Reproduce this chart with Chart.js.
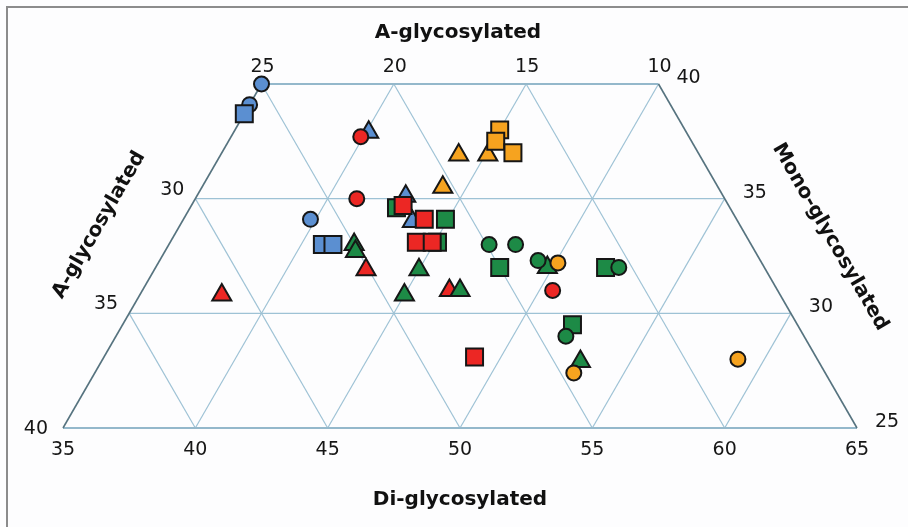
<!DOCTYPE html>
<html>
<head>
<meta charset="utf-8">
<script src="https://cdn.jsdelivr.net/npm/chart.js@4/dist/chart.umd.min.js"></script>
<style>
  body { margin: 0; background: #fdfdfe; }
  canvas { display: block; }
</style>
</head>
<body>
<canvas id="chart" width="908" height="527"></canvas>
<script>
// ternary values in %, A-glycosylated = 100 - di - mono
var blueCircleDi = [35.0, 35.0, 39.8];
var blueCircleMono = [40.0, 39.1, 34.1];
var blueSquareDi = [35.0, 40.8, 41.2];
var blueSquareMono = [38.7, 33.0, 33.0];
var blueTriangleDi = [40.1, 42.9, 43.7];
var blueTriangleMono = [37.9, 35.1, 34.0];

var redCircleDi = [39.9, 41.1, 50.5];
var redCircleMono = [37.7, 35.0, 31.0];
var redSquareDi = [43.0, 44.1, 44.3, 44.9, 49.0];
var redSquareMono = [34.7, 34.1, 33.1, 33.1, 28.1];
var redTriangleDi = [43.0, 46.6, 38.1];
var redTriangleMono = [31.9, 31.0, 30.8];

var greenCircleDi = [47.1, 48.1, 49.3, 52.5, 52.0];
var greenCircleMono = [33.0, 33.0, 32.3, 32.0, 29.0];
var greenSquareDi = [42.8, 44.9, 45.1, 48.0, 52.0, 52.0];
var greenSquareMono = [34.6, 34.1, 33.1, 32.0, 32.0, 29.5];
var greenTriangleDi = [42.0, 42.2, 45.0, 45.0, 47.0, 53.1, 49.8];
var greenTriangleMono = [33.0, 32.7, 31.9, 30.8, 31.0, 27.9, 32.0];

var orangeCircleDi = [50.1, 53.1, 59.0];
var orangeCircleMono = [32.2, 27.4, 28.0];
var orangeSquareDi = [45.0, 45.1, 46.0];
var orangeSquareMono = [38.0, 37.5, 37.0];
var orangeTriangleDi = [44.0, 45.1, 44.1];
var orangeTriangleMono = [36.9, 36.9, 35.5];

var diTicks = [35, 40, 45, 50, 55, 60, 65];
var monoTicks = [25, 30, 35, 40];
var aTicksLeft = [40, 35, 30];
var aTicksTop = [25, 20, 15, 10];

var DI_MIN = 35, MONO_MIN = 25, SPAN = 30, MONO_MAX = 40;
var SQ3 = Math.sqrt(3);

function toXY(di, mono) {
    return { x: (di - DI_MIN) + (mono - MONO_MIN) / 2, y: (mono - MONO_MIN) * SQ3 / 2 };
}
function points(di, mono) {
    return di.map((d, i) => toXY(d, mono[i]));
}

var blue = '#5b8fd1', red = '#ec2724', green = '#1d8a46', orange = '#f6a31f';

function ds(label, di, mono, color, style, r, order) {
    return {
        label: label,
        data: points(di, mono),
        pointStyle: style,
        pointRadius: r,
        pointHoverRadius: r,
        backgroundColor: color,
        borderColor: '#161616',
        pointBorderWidth: 2,
        clip: false,
        order: order
    };
}

var datasets = [
    ds('Orange circle', orangeCircleDi, orangeCircleMono, orange, 'circle', 7.5, 0),
    ds('Orange square', orangeSquareDi, orangeSquareMono, orange, 'rect', 12, 1),
    ds('Orange triangle', orangeTriangleDi, orangeTriangleMono, orange, 'triangle', 11, 2),
    ds('Red square', redSquareDi, redSquareMono, red, 'rect', 12, 3),
    ds('Red circle', redCircleDi, redCircleMono, red, 'circle', 7.5, 4),
    ds('Green circle', greenCircleDi, greenCircleMono, green, 'circle', 7.5, 5),
    ds('Green triangle', greenTriangleDi, greenTriangleMono, green, 'triangle', 11, 6),
    ds('Green square', greenSquareDi, greenSquareMono, green, 'rect', 12, 7),
    ds('Red triangle', redTriangleDi, redTriangleMono, red, 'triangle', 11, 8),
    ds('Blue square', blueSquareDi, blueSquareMono, blue, 'rect', 12, 9),
    ds('Blue triangle', blueTriangleDi, blueTriangleMono, blue, 'triangle', 11, 10),
    ds('Blue circle', blueCircleDi, blueCircleMono, blue, 'circle', 7.5, 11)
];

function pix(chart, di, mono) {
    var p = toXY(di, mono);
    return { x: chart.scales.x.getPixelForValue(p.x), y: chart.scales.y.getPixelForValue(p.y) };
}

function line(ctx, a, b, color, w) {
    ctx.beginPath();
    ctx.strokeStyle = color;
    ctx.lineWidth = w;
    ctx.moveTo(a.x, a.y);
    ctx.lineTo(b.x, b.y);
    ctx.stroke();
}

var ternaryGrid = {
    id: 'ternaryGrid',
    beforeDatasetsDraw(chart) {
        var ctx = chart.ctx;
        ctx.save();
        // outer frame
        ctx.strokeStyle = '#8c8c8c';
        ctx.lineWidth = 2;
        ctx.strokeRect(7, 7, 1000, 1000);

        var gridColor = '#9ec2d5';
        // constant mono
        monoTicks.forEach(m => {
            if (m <= MONO_MIN || m >= MONO_MAX) return;
            line(ctx, pix(chart, DI_MIN, m), pix(chart, 90 - m, m), gridColor, 1.2);
        });
        // constant di
        diTicks.forEach(d => {
            if (d <= DI_MIN || d >= DI_MIN + SPAN) return;
            var top = d <= 50 ? pix(chart, d, MONO_MAX) : pix(chart, d, 90 - d);
            line(ctx, pix(chart, d, MONO_MIN), top, gridColor, 1.2);
        });
        // constant A
        [15, 20, 25, 30, 35].forEach(a => {
            var bottom = pix(chart, 75 - a, MONO_MIN);
            var top = (60 - a) >= DI_MIN ? pix(chart, 60 - a, MONO_MAX) : pix(chart, DI_MIN, 65 - a);
            line(ctx, bottom, top, gridColor, 1.2);
        });
        // outline
        line(ctx, pix(chart, DI_MIN, MONO_MIN), pix(chart, 65, MONO_MIN), '#94b8cb', 1.8);
        line(ctx, pix(chart, DI_MIN, MONO_MAX), pix(chart, 50, MONO_MAX), '#94b8cb', 1.8);
        line(ctx, pix(chart, DI_MIN, MONO_MIN), pix(chart, DI_MIN, MONO_MAX), '#56737f', 1.6);
        line(ctx, pix(chart, 65, MONO_MIN), pix(chart, 50, MONO_MAX), '#56737f', 1.6);
        ctx.restore();
    },
    afterDraw(chart) {
        var ctx = chart.ctx;
        ctx.save();
        ctx.fillStyle = '#161616';
        ctx.font = '19px "DejaVu Sans"';
        ctx.textBaseline = 'middle';

        ctx.textAlign = 'center';
        diTicks.forEach(d => {
            var p = pix(chart, d, MONO_MIN);
            ctx.fillText(String(d), p.x, p.y + 22);
        });
        aTicksTop.forEach(a => {
            var p = pix(chart, 60 - a, MONO_MAX);
            ctx.fillText(String(a), p.x + 1, p.y - 17);
        });
        ctx.textAlign = 'right';
        aTicksLeft.forEach(a => {
            var p = pix(chart, DI_MIN, 65 - a);
            if (a === 40) ctx.fillText(String(a), p.x - 15, p.y + 1);
            else ctx.fillText(String(a), p.x - 11, p.y - 9);
        });
        ctx.textAlign = 'left';
        monoTicks.forEach(m => {
            var p = pix(chart, 90 - m, m);
            ctx.fillText(String(m), p.x + 18, p.y - 6);
        });

        ctx.font = 'bold 20px "DejaVu Sans"';
        ctx.textAlign = 'center';
        ctx.fillStyle = '#111';
        ctx.fillText('A-glycosylated', 458, 33);
        ctx.fillText('Di-glycosylated', 460, 500);

        ctx.translate(99, 225);
        ctx.rotate(-Math.PI / 3);
        ctx.fillText('A-glycosylated', 0, 0);
        ctx.restore();

        ctx.save();
        ctx.fillStyle = '#111';
        ctx.font = 'bold 20px "DejaVu Sans"';
        ctx.textAlign = 'center';
        ctx.textBaseline = 'middle';
        ctx.translate(830, 237);
        ctx.rotate(Math.PI / 3);
        ctx.fillText('Mono-glycosylated', 0, 0);
        ctx.restore();
    }
};

new Chart(document.getElementById('chart'), {
    type: 'scatter',
    data: { datasets: datasets },
    options: {
        responsive: false,
        animation: false,
        devicePixelRatio: 1,
        layout: { padding: { left: 63, right: 51, top: 84, bottom: 99 } },
        scales: {
            x: { type: 'linear', min: 0, max: SPAN, display: false },
            y: { type: 'linear', min: 0, max: SPAN / 2 * SQ3 / 2, display: false }
        },
        plugins: { legend: { display: false }, tooltip: { enabled: false } }
    },
    plugins: [ternaryGrid]
});
</script>
</body>
</html>
